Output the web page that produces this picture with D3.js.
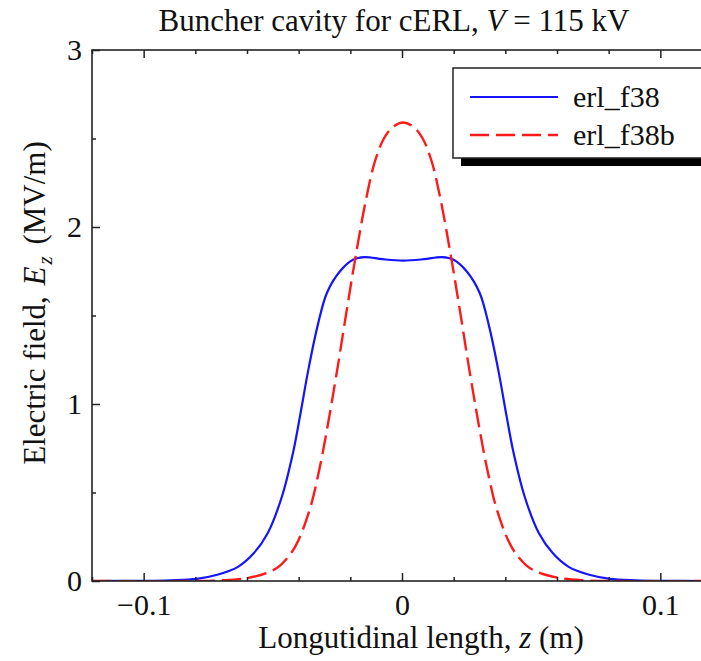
<!DOCTYPE html>
<html>
<head>
<meta charset="utf-8">
<script src="https://cdn.jsdelivr.net/npm/d3@7"></script>
<style>
  body { margin: 0; background: #fff; }
  svg { display: block; font-family: "Liberation Serif", "DejaVu Serif", serif; }
</style>
</head>
<body>
<div id="chart"></div>
<script>
// erl_f38 (solid blue): z (m) and Ez (MV/m)
const zBlue = [-0.12, -0.0995, -0.0895, -0.0795, -0.0715, -0.0635, -0.0575, -0.052, -0.0465, -0.0421, -0.0395,
  -0.0363, -0.0327, -0.029, -0.024, -0.019, -0.0145, -0.0075, 0.0005, 0.0085, 0.0155, 0.02, 0.025, 0.03,
  0.0337, 0.0373, 0.0405, 0.0431, 0.0475, 0.053, 0.0585, 0.0645, 0.0725, 0.0805, 0.0905, 0.1005, 0.12];
const eBlue = [0, 0.001, 0.004, 0.012, 0.035, 0.08, 0.155, 0.27, 0.476, 0.73, 0.93,
  1.19, 1.44, 1.63, 1.75, 1.815, 1.83, 1.818, 1.81, 1.818, 1.83, 1.815, 1.75, 1.63,
  1.44, 1.19, 0.93, 0.73, 0.476, 0.27, 0.155, 0.08, 0.035, 0.012, 0.004, 0.001, 0];

// erl_f38b (dashed red)
const zRed = [-0.12, -0.0795, -0.0695, -0.0595, -0.0515, -0.047, -0.0415, -0.036, -0.032, -0.0285, -0.025,
  -0.0215, -0.018, -0.014, -0.0105, -0.007, -0.0035, 0.0005, 0.0045, 0.008, 0.0115, 0.015, 0.019, 0.0225,
  0.026, 0.0295, 0.033, 0.037, 0.0425, 0.048, 0.0525, 0.0605, 0.0705, 0.0805, 0.12];
const eRed = [0, 0, 0.004, 0.018, 0.05, 0.09, 0.19, 0.39, 0.63, 0.9, 1.2,
  1.52, 1.83, 2.15, 2.37, 2.50, 2.565, 2.59, 2.565, 2.50, 2.37, 2.15, 1.83, 1.52,
  1.2, 0.9, 0.63, 0.39, 0.19, 0.09, 0.05, 0.018, 0.004, 0, 0];

const seriesNames = ["erl_f38", "erl_f38b"];
const xMajor = [-0.1, 0, 0.1];
const xTickLabels = ["\u22120.1", "0", "0.1"];
const xMinor = [-0.12, -0.08, -0.06, -0.04, -0.02, 0.02, 0.04, 0.06, 0.08, 0.12];
const yMajor = [0, 1, 2, 3];
const yTickLabels = ["0", "1", "2", "3"];
const yMinor = [0.5, 1.5, 2.5];

const width = 701, height = 661;
const margin = { top: 50, right: -11, bottom: 80, left: 92 };
const w = width - margin.left - margin.right;
const h = height - margin.top - margin.bottom;

const svg = d3.select("#chart").append("svg")
  .attr("width", width)
  .attr("height", height);

const x = d3.scaleLinear().domain([-0.12, 0.12]).range([0, w]);
const y = d3.scaleLinear().domain([0, 3]).range([h, 0]);

const g = svg.append("g").attr("transform", `translate(${margin.left},${margin.top})`);

g.append("clipPath").attr("id", "clip")
  .append("rect").attr("width", w).attr("height", h);

// lines
const line = d3.line().x(d => x(d[0])).y(d => y(d[1])).curve(d3.curveCatmullRom.alpha(0.5));
const blueData = zBlue.map((z, i) => [z, eBlue[i]]);
const redData = zRed.map((z, i) => [z, eRed[i]]);

g.append("path").datum(blueData)
  .attr("clip-path", "url(#clip)")
  .attr("d", line)
  .attr("fill", "none")
  .attr("stroke", "#1414ff")
  .attr("stroke-width", 2.2);

g.append("path").datum(redData)
  .attr("clip-path", "url(#clip)")
  .attr("d", line)
  .attr("fill", "none")
  .attr("stroke", "#ff1a1a")
  .attr("stroke-width", 2.4)
  .attr("stroke-dasharray", "19,7");

// axes (ticks pointing inward)
function styleAxis(sel) {
  sel.select(".domain").remove();
  sel.selectAll("line").attr("stroke", "#222").attr("stroke-width", 1.5);
  sel.selectAll("text").attr("fill", "#111").style("font-size", "30px")
    .style("font-family", "'Liberation Serif', serif");
}

g.append("g").attr("transform", `translate(0,${h})`)
  .call(d3.axisBottom(x).tickValues(xMajor).tickSize(-8).tickPadding(13)
    .tickFormat((d, i) => xTickLabels[i]))
  .call(styleAxis);
g.append("g").attr("transform", `translate(0,${h})`)
  .call(d3.axisBottom(x).tickValues(xMinor).tickSize(-4).tickFormat(""))
  .call(styleAxis);
g.append("g")
  .call(d3.axisTop(x).tickValues(xMajor).tickSize(-8).tickFormat(""))
  .call(styleAxis);
g.append("g")
  .call(d3.axisTop(x).tickValues(xMinor).tickSize(-4).tickFormat(""))
  .call(styleAxis);

g.append("g")
  .call(d3.axisLeft(y).tickValues(yMajor).tickSize(-8).tickPadding(10)
    .tickFormat((d, i) => yTickLabels[i]))
  .call(styleAxis);
g.append("g")
  .call(d3.axisLeft(y).tickValues(yMinor).tickSize(-4).tickFormat(""))
  .call(styleAxis);

// frame
g.append("rect").attr("width", w).attr("height", h)
  .attr("fill", "none").attr("stroke", "#222").attr("stroke-width", 1.6);

// legend
const lg = svg.append("g").attr("transform", "translate(453,68)");
lg.append("rect").attr("x", 8).attr("y", 8).attr("width", 260).attr("height", 90).attr("fill", "#000");
lg.append("rect").attr("width", 260).attr("height", 90)
  .attr("fill", "#fff").attr("stroke", "#222").attr("stroke-width", 1.5);
const legendStyles = [
  { color: "#1414ff", dash: null, w: 2.2 },
  { color: "#ff1a1a", dash: "19,7", w: 2.4 }
];
seriesNames.forEach((name, i) => {
  const yy = 29 + i * 38;
  lg.append("line").attr("x1", 17).attr("x2", 105).attr("y1", yy).attr("y2", yy)
    .attr("stroke", legendStyles[i].color).attr("stroke-width", legendStyles[i].w)
    .attr("stroke-dasharray", legendStyles[i].dash);
  lg.append("text").attr("x", 120).attr("y", yy + 10)
    .style("font-size", "30px").attr("fill", "#111").text(name);
});

// title
const title = svg.append("text").attr("x", 394).attr("y", 31)
  .attr("text-anchor", "middle").style("font-size", "31px").attr("fill", "#111");
title.append("tspan").text("Buncher cavity for cERL, ");
title.append("tspan").style("font-style", "italic").text("V");
title.append("tspan").text(" = 115 kV");

// x label
const xl = svg.append("text").attr("x", 421).attr("y", 648)
  .attr("text-anchor", "middle").style("font-size", "31px").attr("fill", "#111");
xl.append("tspan").text("Longutidinal length, ");
xl.append("tspan").style("font-style", "italic").text("z");
xl.append("tspan").text(" (m)");

// y label
const yl = svg.append("text")
  .attr("transform", "translate(45,303) rotate(-90)")
  .attr("text-anchor", "middle").style("font-size", "31px").attr("fill", "#111");
yl.append("tspan").text("Electric field, ");
yl.append("tspan").style("font-style", "italic").attr("dx", 3).text("E");
yl.append("tspan").style("font-style", "italic").style("font-size", "21px").attr("dx", 2).attr("dy", 7).text("z");
yl.append("tspan").attr("dx", 4).attr("dy", -7).text(" (MV/m)");
</script>
</body>
</html>
